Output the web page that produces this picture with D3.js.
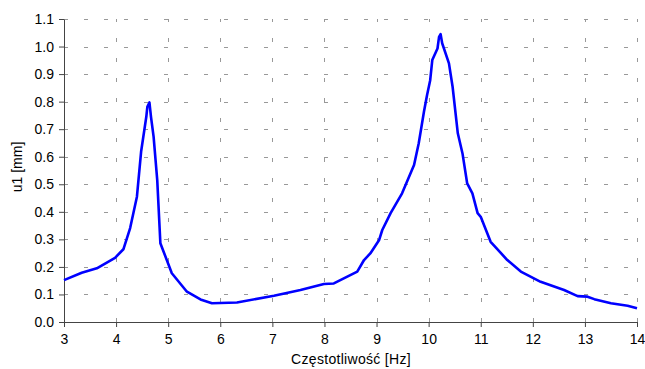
<!DOCTYPE html>
<html>
<head>
<meta charset="utf-8">
<script src="https://cdn.jsdelivr.net/npm/d3@7"></script>
<style>
  body { margin: 0; background: #fff; }
  text { font-family: "Liberation Sans", Arial, sans-serif; }
</style>
</head>
<body>
<div id="chart"></div>
<script>
// frequency [Hz] and amplitude u1 [mm]
const freq = [3.00, 3.34, 3.63, 3.98, 4.14, 4.27, 4.40, 4.48, 4.58, 4.60, 4.64, 4.67, 4.72, 4.79, 4.85,
  5.07, 5.36, 5.62, 5.84, 6.32, 7.03, 7.54, 7.99, 8.18, 8.63, 8.76, 8.88, 9.05, 9.11, 9.27, 9.49,
  9.72, 9.81, 9.91, 9.97, 10.03, 10.07, 10.17, 10.20, 10.23, 10.26, 10.39, 10.46, 10.56, 10.65,
  10.74, 10.84, 10.94, 11.00, 11.19, 11.51, 11.77, 12.15, 12.60, 12.86, 13.05, 13.18, 13.50, 13.82, 14.00];
const u1 = [0.152, 0.179, 0.195, 0.233, 0.264, 0.341, 0.455, 0.618, 0.745, 0.781, 0.797, 0.745, 0.673, 0.515, 0.286,
  0.177, 0.110, 0.082, 0.068, 0.071, 0.095, 0.116, 0.138, 0.140, 0.183, 0.225, 0.249, 0.298, 0.334, 0.395, 0.467,
  0.570, 0.649, 0.763, 0.824, 0.878, 0.951, 0.993, 1.035, 1.045, 1.012, 0.939, 0.854, 0.685, 0.612,
  0.503, 0.467, 0.395, 0.382, 0.291, 0.225, 0.183, 0.146, 0.116, 0.094, 0.092, 0.083, 0.068, 0.059, 0.050];

const xTicks = d3.range(3, 15, 1);
const yTicks = d3.range(0, 1.15, 0.1);

const width = 645, height = 369;
const margin = {top: 19, right: 8, bottom: 47, left: 64};

const svg = d3.select("#chart")
  .append("svg")
    .attr("width", width)
    .attr("height", height);

const x = d3.scaleLinear().domain([3, 14]).range([margin.left, width - margin.right]);
const y = d3.scaleLinear().domain([0, 1.1]).range([height - margin.bottom, margin.top]);

// dashed grid
svg.append("g")
  .selectAll("line")
  .data(yTicks.slice(1))
  .join("line")
    .attr("x1", margin.left).attr("x2", width - margin.right)
    .attr("y1", d => Math.round(y(d)) + 0.5).attr("y2", d => Math.round(y(d)) + 0.5)
    .attr("stroke", "#999").attr("stroke-dasharray", "4,16");

svg.append("g")
  .selectAll("line")
  .data(xTicks.slice(1))
  .join("line")
    .attr("x1", d => Math.round(x(d)) + 0.5).attr("x2", d => Math.round(x(d)) + 0.5)
    .attr("y1", height - margin.bottom).attr("y2", margin.top)
    .attr("stroke", "#999").attr("stroke-dasharray", "4,16");

// axes
const xAxis = svg.append("g")
  .attr("transform", `translate(0,${height - margin.bottom})`)
  .call(d3.axisBottom(x).tickValues(xTicks).tickFormat(d3.format("d")).tickSize(5).tickSizeOuter(0));
const yAxis = svg.append("g")
  .attr("transform", `translate(${margin.left},0)`)
  .call(d3.axisLeft(y).tickValues(yTicks).tickFormat(d3.format(".1f")).tickSize(5).tickSizeOuter(0));

[xAxis, yAxis].forEach(a => {
  a.select(".domain").attr("stroke", "#444");
  a.selectAll(".tick line").attr("stroke", "#444");
  a.selectAll("text").attr("font-size", 14).attr("fill", "#000")
    .style("font-family", "'Liberation Sans', Arial, sans-serif");
});
xAxis.selectAll("text").attr("y", 9).attr("dy", "0.95em");
yAxis.selectAll("text").attr("x", -10);

// the curve
const line = d3.line()
  .x((d, i) => x(freq[i]))
  .y(d => y(d));

svg.append("path")
  .datum(u1)
  .attr("fill", "none")
  .attr("stroke", "#0000ff")
  .attr("stroke-width", 2.6)
  .attr("stroke-linejoin", "round")
  .attr("d", line);

// titles
svg.append("text")
  .attr("x", 351)
  .attr("y", 364)
  .attr("text-anchor", "middle")
  .attr("font-size", 14)
  .attr("letter-spacing", 0.3)
  .text("Częstotliwość [Hz]");

svg.append("text")
  .attr("transform", `translate(22,167) rotate(-90)`)
  .attr("text-anchor", "middle")
  .attr("font-size", 14)
  .text("u1 [mm]");
</script>
</body>
</html>
